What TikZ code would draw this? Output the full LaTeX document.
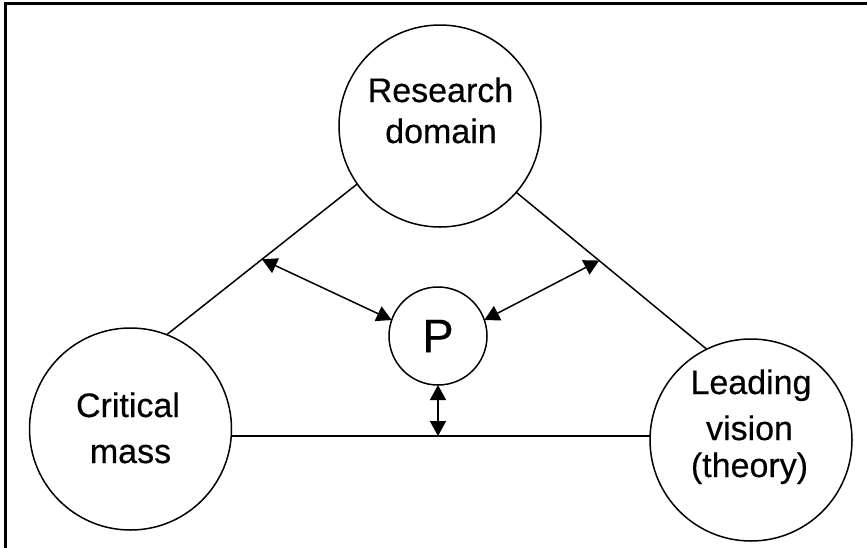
\documentclass[tikz,border=0pt]{standalone}
\usepackage{fontspec}
\setmainfont{Liberation Sans}
\newfontfamily\labfont{Liberation Sans}[FakeBold=0.4]
\usetikzlibrary{arrows.meta,calc}
\begin{document}
\begin{tikzpicture}[x=1pt,y=-1pt,
  circ/.style={draw,circle,line width=1.5pt,inner sep=0pt,outer sep=0pt},
  big/.style={circ,minimum size=202pt},
  lab/.style={anchor=base,inner sep=0pt,font=\labfont\fontsize{34}{40}\selectfont},
  conn/.style={line width=1.5pt},
  dbl/.style={line width=1.5pt,{Triangle[length=15pt,width=16pt]}-{Triangle[length=15pt,width=16pt]}}]
\useasboundingbox (0,0) rectangle (867,547);
\clip (0,0) rectangle (867,547);
\fill[white] (0,0) rectangle (867,547);
\draw[line width=3pt] (5,600) -- (5,3) -- (900,3);

\node[big] (R) at (440,126) {};
\node[big] (C) at (130.5,429) {};
\node[big] (L) at (751,440) {};
\node[circ,minimum size=98pt,font=\labfont\fontsize{47}{56}\selectfont] (P) at (438,336) {P};

\node[lab] (r1) at (440.5,102) {Research};
\node[lab] (r2) at (441,143) {domain};
\node[lab] (c1) at (128,417) {Critical};
\node[lab] (c2) at (130.5,463) {mass};
\node[lab] (l1) at (751,394) {Leading};
\node[lab] (l2) at (749.5,440) {vision};
\node[lab] (l3) at (749.5,477) {(theory)};

\draw[conn] (R.215.7) -- (C.69.2);
\draw[conn] (R.319) -- (L.116.3);
\draw[conn] (C.-4) -- (C.-4 -| L.west);

\coordinate (m1) at ($(R.215.7)!0.5!(C.69.2)$);
\coordinate (m2) at ($(R.319)!0.435!(L.116.3)$);
\coordinate (m3) at (P.south |- C.-4);

\draw[dbl] (m1) -- (P.161.6);
\draw[dbl] (m2) -- (P.19.6);
\draw[dbl] (m3) -- (P.south);
\end{tikzpicture}
\end{document}
